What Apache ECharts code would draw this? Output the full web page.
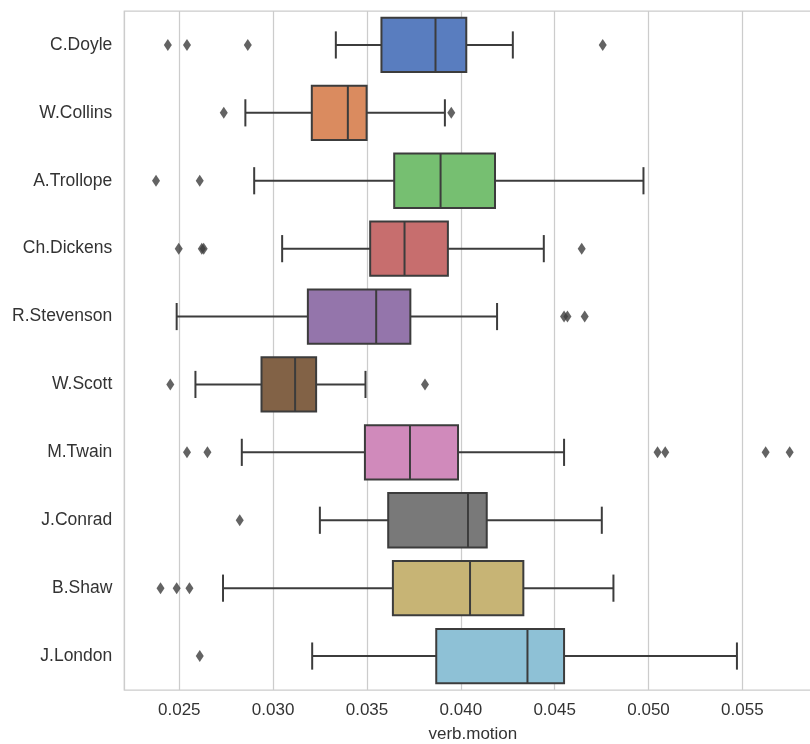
<!DOCTYPE html>
<html>
<head>
<meta charset="utf-8">
<script src="https://cdn.jsdelivr.net/npm/echarts@6/dist/echarts.min.js"></script>
<style>html,body{margin:0;padding:0;background:#fff;}#c{width:810px;height:744px;}</style>
</head>
<body>
<div id="c"></div>
<script>
const authors = ['C.Doyle','W.Collins','A.Trollope','Ch.Dickens','R.Stevenson','W.Scott','M.Twain','J.Conrad','B.Shaw','J.London'];
const whiskerLow  = [0.03334,0.02852,0.02899,0.03048,0.02486,0.02586,0.02833,0.03249,0.02733,0.03208];
const q1          = [0.03577,0.03206,0.03645,0.03517,0.03185,0.02938,0.03489,0.03613,0.03638,0.03869];
const median      = [0.03865,0.03398,0.03892,0.03700,0.03549,0.03117,0.03729,0.04038,0.04049,0.04355];
const q3          = [0.04029,0.03498,0.04182,0.03931,0.03731,0.03229,0.03985,0.04138,0.04333,0.04550];
const whiskerHigh = [0.04277,0.03915,0.04973,0.04442,0.04193,0.03492,0.04550,0.04751,0.04813,0.05471];
const outliers = [
  [0.02439,0.02541,0.02865,0.04756],
  [0.02737,0.03949],
  [0.02376,0.02609],
  [0.02497,0.02620,0.02630,0.04644],
  [0.04550,0.04568,0.04660],
  [0.02452,0.03809],
  [0.02541,0.02650,0.05048,0.05089,0.05624,0.05752],
  [0.02822],
  [0.02400,0.02486,0.02554],
  [0.02609]
];
const boxColors = ['#597DBF','#DA8B5F','#76BF71','#C76E6E','#9475AB','#826246','#D08ABB','#797979','#C7B475','#8EC1D6'];
const lineColor = '#3c3c3c';
const axisName = 'verb.motion';

const boxData = authors.map((a,i)=>[i, whiskerLow[i], q1[i], median[i], q3[i], whiskerHigh[i]]);
const outlierData = [];
outliers.forEach((arr,i)=>arr.forEach(v=>outlierData.push([v, i])));

const chart = echarts.init(document.getElementById('c'), null, {renderer:'canvas'});
const font = 'Liberation Sans, Arial, sans-serif';
chart.setOption({
  backgroundColor:'#fff',
  animation:false,
  grid:{left:124.3, top:11, bottom:54, width:697.1, outerBoundsMode:'none', containLabel:false,
        show:true, borderColor:'#cccccc', borderWidth:1.25, backgroundColor:'#fff'},
  xAxis:{
    type:'value', min:0.02207, max:0.05921, splitNumber:7, minInterval:0.005, maxInterval:0.005,
    axisLine:{show:false}, axisTick:{show:false},
    splitLine:{show:true, lineStyle:{color:'#cccccc', width:1.25}},
    axisLabel:{color:'#333', fontSize:17, fontFamily:font, margin:12,
      formatter:function(v){ const r=v/0.005; return Math.abs(r-Math.round(r))<1e-6 ? v.toFixed(3) : ''; }},
    name:axisName, nameLocation:'middle', nameGap:36,
    nameTextStyle:{color:'#333', fontSize:17, fontFamily:font}
  },
  yAxis:{
    type:'category', data:authors, inverse:true,
    axisLine:{show:false}, axisTick:{show:false}, splitLine:{show:false},
    axisLabel:{color:'#333', fontSize:17.5, fontFamily:font, margin:12}
  },
  series:[
    {
      type:'custom',
      data:boxData,
      encode:{x:[1,2,3,4,5], y:0},
      renderItem:function(params, api){
        const cat = api.value(0);
        const pLo = api.coord([api.value(1), cat]);
        const pQ1 = api.coord([api.value(2), cat]);
        const pMd = api.coord([api.value(3), cat]);
        const pQ3 = api.coord([api.value(4), cat]);
        const pHi = api.coord([api.value(5), cat]);
        const band = api.size([0,1])[1];
        const bh = band*0.8;
        const cy = pMd[1];
        const ls = {stroke:lineColor, lineWidth:2};
        return {
          type:'group',
          children:[
            {type:'line', shape:{x1:pLo[0], y1:cy, x2:pQ1[0], y2:cy}, style:ls},
            {type:'line', shape:{x1:pQ3[0], y1:cy, x2:pHi[0], y2:cy}, style:ls},
            {type:'line', shape:{x1:pLo[0], y1:cy-bh/4, x2:pLo[0], y2:cy+bh/4}, style:ls},
            {type:'line', shape:{x1:pHi[0], y1:cy-bh/4, x2:pHi[0], y2:cy+bh/4}, style:ls},
            {type:'rect', shape:{x:pQ1[0], y:cy-bh/2, width:pQ3[0]-pQ1[0], height:bh},
              style:{fill:boxColors[params.dataIndex], stroke:lineColor, lineWidth:2}},
            {type:'line', shape:{x1:pMd[0], y1:cy-bh/2, x2:pMd[0], y2:cy+bh/2}, style:ls}
          ]
        };
      },
      z:3
    },
    {
      type:'scatter',
      data:outlierData,
      symbol:'diamond',
      symbolSize:[8,12],
      itemStyle:{color:lineColor},
      z:4
    }
  ]
});
</script>
</body>
</html>
